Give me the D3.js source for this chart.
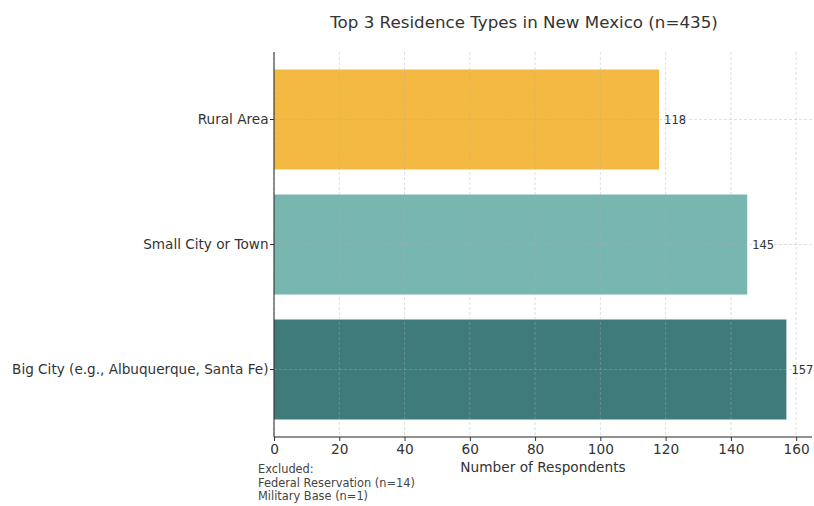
<!DOCTYPE html>
<html><head><meta charset="utf-8">
<script src="https://cdn.jsdelivr.net/npm/d3@7"></script>
<style>body{margin:0;background:#fff;} text{font-family:"DejaVu Sans",sans-serif;}</style>
</head><body>
<svg id="c" width="814" height="506"></svg>
<script>
const categories = ["Big City (e.g., Albuquerque, Santa Fe)", "Small City or Town", "Rural Area"];
const values = [157, 145, 118];
const colors = ["#3e7b7a", "#78b6b0", "#f4b942"];
const xTicks = [0, 20, 40, 60, 80, 100, 120, 140, 160];
const title = "Top 3 Residence Types in New Mexico (n=435)";
const xLabel = "Number of Respondents";
const notes = ["Excluded:", "Federal Reservation (n=14)", "Military Base (n=1)"];

const svg = d3.select("#c");
const L = 274, R = 812, T = 52, B = 437;
const x = d3.scaleLinear().domain([0, 157 * 1.05]).range([L, R]);
const y = d3.scaleLinear().domain([-0.54, 2.54]).range([B, T]);
const bh = y(0) - y(0.8);
const txt = "#333";

// bars
svg.selectAll("rect.bar").data(values).enter().append("rect")
  .attr("x", x(0)).attr("y", (d, i) => y(i) - bh / 2)
  .attr("width", d => x(d) - x(0)).attr("height", bh)
  .attr("fill", (d, i) => colors[i]);

// grid
const g = svg.append("g");
g.selectAll("line.vx").data(xTicks).enter().append("line")
  .attr("x1", d => x(d)).attr("x2", d => x(d)).attr("y1", T).attr("y2", B)
  .attr("stroke", "#b0b0b0").attr("stroke-opacity", 0.5).attr("stroke-width", 0.8).attr("stroke-dasharray", "3,2");
g.selectAll("line.hy").data(categories).enter().append("line")
  .attr("x1", L).attr("x2", R).attr("y1", (d, i) => y(i)).attr("y2", (d, i) => y(i))
  .attr("stroke", "#b0b0b0").attr("stroke-opacity", 0.5).attr("stroke-width", 0.8).attr("stroke-dasharray", "3,2");

// axes
const xa = svg.append("g").attr("transform", `translate(0,${B})`)
  .call(d3.axisBottom(x).tickValues(xTicks).tickSize(4).tickPadding(3).tickFormat(d3.format("d")));
xa.select(".domain").remove();
xa.selectAll("line").attr("stroke", "#333");
xa.selectAll("text").attr("font-size", 13.7).attr("fill", txt).attr("font-family", "DejaVu Sans");

const yTicks = svg.append("g");
categories.forEach((c, i) => {
  yTicks.append("line").attr("x1", L - 4).attr("x2", L).attr("y1", y(i)).attr("y2", y(i)).attr("stroke", "#333");
  yTicks.append("text").attr("x", L - 5.5).attr("y", y(i)).attr("dy", "0.35em")
    .attr("text-anchor", "end").attr("font-size", 13.6).attr("fill", txt).text(c);
});

svg.append("line").attr("x1", L).attr("x2", L).attr("y1", T).attr("y2", B).attr("stroke", "#222").attr("stroke-width", 1);
svg.append("line").attr("x1", L).attr("x2", R).attr("y1", B).attr("y2", B).attr("stroke", "#222").attr("stroke-width", 1);

// value labels
svg.selectAll("text.val").data(values).enter().append("text")
  .attr("x", d => x(d) + 5).attr("y", (d, i) => y(i)).attr("dy", "0.35em")
  .attr("font-size", 11.5).attr("fill", txt).text(d => d);

// title
svg.append("text").attr("x", 524).attr("y", 28).attr("text-anchor", "middle")
  .attr("font-size", 16.7).attr("fill", txt).text(title);

svg.append("text").attr("x", (L + R) / 2).attr("y", 472).attr("text-anchor", "middle")
  .attr("font-size", 13.7).attr("fill", txt).text(xLabel);

svg.selectAll("text.note").data(notes).enter().append("text")
  .attr("x", 258).attr("y", (d, i) => 473 + i * 13.5)
  .attr("font-size", 11.4).attr("fill", "#444").text(d => d);
</script>
</body></html>
